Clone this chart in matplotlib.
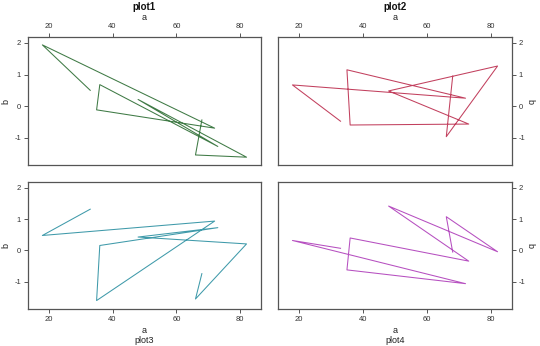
import matplotlib
matplotlib.use("Agg")
import matplotlib.pyplot as plt

plt.rcParams["font.family"] = ["Liberation Sans", "DejaVu Sans"]
plt.rcParams["axes.unicode_minus"] = False

# shared x values, one y series per panel
a = [33, 18, 72, 35, 36, 73, 48, 82, 66, 68]
b1 = [0.50, 1.94, -0.70, -0.12, 0.68, -1.28, 0.21, -1.62, -1.55, -0.44]
b2 = [-0.48, 0.67, 0.25, 1.15, -0.60, -0.57, 0.48, 1.27, -0.97, 0.95]
b3 = [1.32, 0.48, 0.94, -1.60, 0.16, 0.73, 0.43, 0.21, -1.55, -0.74]
b4 = [0.07, 0.32, -1.06, -0.62, 0.40, -0.34, 1.42, -0.04, 1.08, -0.05]

titles = ["plot1", "plot2", "plot3", "plot4"]
colors = ["#3f7a45", "#c2405e", "#3f9aaa", "#b64fc0"]
xticks = [20, 40, 60, 80]
yticks = [-1, 0, 1, 2]

fig = plt.figure(figsize=(5.4, 3.46), dpi=100)

# panel boxes: left, bottom, width, height
boxes = [
    [0.052, 0.523, 0.431, 0.370],
    [0.515, 0.523, 0.433, 0.370],
    [0.052, 0.107, 0.431, 0.367],
    [0.515, 0.107, 0.433, 0.367],
]

xall = a
yall = b1 + b2 + b3 + b4
xpad = 0.07 * (max(xall) - min(xall))
ypad = 0.07 * (max(yall) - min(yall))

for i, (ys, col, box, title) in enumerate(zip([b1, b2, b3, b4], colors, boxes, titles)):
    ax = fig.add_axes(box)
    ax.plot(a, ys, color=col, lw=0.75)
    ax.set_xlim(min(xall) - xpad, max(xall) + xpad)
    ax.set_ylim(min(yall) - ypad, max(yall) + ypad)
    ax.set_xticks(xticks)
    ax.set_yticks(yticks)
    for sp in ax.spines.values():
        sp.set_color("#555555")
        sp.set_linewidth(0.9)
    ax.tick_params(length=3, width=0.7, color="#555555", labelsize=5.5,
                   labelcolor="#333333", pad=2)

    top = i < 2
    right = i % 2 == 1
    ax.xaxis.set_ticks_position("top" if top else "bottom")
    ax.xaxis.set_label_position("top" if top else "bottom")
    ax.yaxis.set_ticks_position("right" if right else "left")
    ax.yaxis.set_label_position("right" if right else "left")
    ax.set_xlabel("a", fontsize=6.5, color="#222222", labelpad=2)
    ax.set_ylabel("b", fontsize=6.5, color="#222222",
                  labelpad=6 if right else 3,
                  rotation=-90 if right else 90)

    cx = box[0] + box[2] / 2
    if top:
        fig.text(cx, 0.98, title, ha="center", va="center", fontsize=7,
                 fontweight="bold", color="#111111")
    else:
        fig.text(cx, 0.015, title, ha="center", va="center", fontsize=6.5,
                 color="#222222")

fig.savefig("out.png", dpi=100)
